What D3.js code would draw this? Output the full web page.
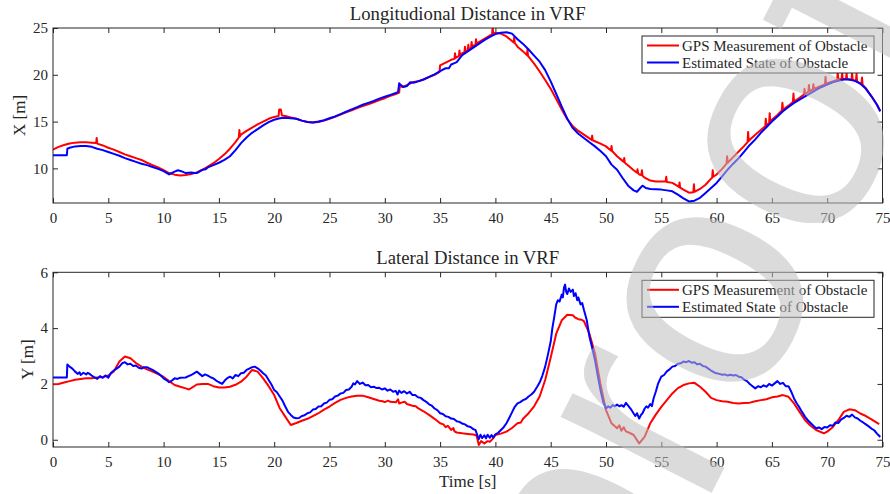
<!DOCTYPE html>
<html>
<head>
<meta charset="utf-8">
<title>VRF distances</title>
<script src="https://d3js.org/d3.v7.min.js"></script>
<style>
  body { margin: 0; background: #fff; }
  text { font-family: "Liberation Serif", "Times New Roman", serif; fill: #262626; }
</style>
</head>
<body>
<svg width="890" height="494"></svg>
<script>
// ---- data: [time s, distance m] ----
var gpsX = [[0,12.0],[0.5,12.3],[1,12.5],[1.5,12.65],[2,12.75],[2.5,12.8],[3,12.8],[3.5,12.75],[3.9,12.7],[3.95,13.25],[4,12.65],[4.5,12.45],[5,12.2],[5.5,12.0],[6,11.75],[6.5,11.5],[7,11.3],[7.5,11.1],[8,10.9],[8.5,10.6],[9,10.35],[9.5,10.1],[10,9.8],[10.5,9.5],[11,9.33],[11.5,9.25],[12,9.3],[12.5,9.4],[13,9.57],[13.5,9.85],[14,10.2],[14.5,10.55],[15,11.0],[15.5,11.5],[16,12.1],[16.5,12.8],[16.8,13.3],[16.85,14.1],[16.9,13.4],[17,13.6],[17.5,14.0],[18,14.35],[18.5,14.7],[19,15.0],[19.5,15.3],[20,15.5],[20.4,15.6],[20.45,16.3],[20.6,16.3],[20.7,15.65],[21,15.6],[21.5,15.45],[22,15.3],[22.5,15.1],[23,14.95],[23.5,14.9],[24,14.95],[24.5,15.1],[25,15.3],[25.5,15.5],[26,15.75],[26.5,16.0],[27,16.2],[27.5,16.45],[28,16.65],[28.5,16.85],[29,17.05],[29.5,17.3],[30,17.5],[30.5,17.75],[31,17.95],[31.3,18.1],[31.35,18.8],[31.6,18.7],[32,18.9],[32.5,19.2],[33,19.3],[33.5,19.5],[34,19.75],[34.5,20.0],[34.95,20.3],[35,21.0],[35.5,21.3],[36,21.6],[36.3,21.7],[36.35,22.3],[36.4,21.8],[36.7,22.0],[36.75,22.6],[36.8,22.1],[37,22.3],[37.2,22.4],[37.25,23.0],[37.3,22.5],[37.5,22.6],[37.55,23.2],[37.6,22.7],[37.8,22.9],[37.85,23.5],[37.9,23.0],[38,23.1],[38.2,23.2],[38.25,23.8],[38.3,23.3],[38.5,23.5],[39,23.85],[39.5,24.2],[39.7,24.3],[39.75,25.2],[39.8,24.4],[40,24.5],[40.5,24.4],[41,24.1],[41.5,23.6],[41.65,23.45],[41.7,24.0],[41.75,23.4],[42,23.0],[42.5,22.5],[42.85,22.1],[42.9,22.7],[42.95,22.0],[43,21.95],[43.5,21.2],[44,20.35],[44.5,19.45],[45,18.5],[45.5,17.4],[46,16.3],[46.5,15.25],[47,14.5],[47.5,14.0],[48,13.6],[48.5,13.2],[48.7,13.05],[48.75,13.5],[48.8,13.0],[49,12.9],[49.5,12.65],[50,12.35],[50.45,11.9],[50.5,12.4],[50.55,11.85],[51,11.3],[51.5,10.8],[51.6,10.7],[51.65,11.1],[51.7,10.6],[52,10.3],[52.5,9.8],[52.8,9.55],[52.85,9.9],[52.9,9.5],[53,9.35],[53.2,9.3],[53.25,9.8],[53.3,9.2],[53.5,9.0],[54,8.7],[54.5,8.6],[55,8.6],[55.4,8.6],[55.45,9.1],[55.5,8.55],[56,8.45],[56.5,8.1],[56.6,8.0],[56.65,8.5],[56.7,7.95],[57,7.73],[57.5,7.4],[57.9,7.45],[57.95,8.3],[58,7.5],[58.5,7.8],[59,8.25],[59.5,8.9],[59.6,9.0],[59.65,9.8],[59.7,9.1],[60,9.35],[60.5,9.95],[60.9,10.5],[60.95,11.3],[61,10.6],[61.5,11.2],[62,11.8],[62.5,12.4],[62.8,12.8],[62.85,13.9],[62.9,12.9],[63,13.05],[63.5,13.6],[64,14.1],[64.4,14.5],[64.45,15.3],[64.5,14.6],[64.75,14.85],[64.8,15.9],[64.85,14.9],[65,15.2],[65.5,15.7],[65.9,16.2],[65.95,17.0],[66,16.27],[66.5,16.7],[66.9,17.1],[66.95,18.0],[67,17.15],[67.5,17.55],[67.9,17.9],[67.95,18.5],[68,17.95],[68.3,18.2],[68.35,18.9],[68.4,18.25],[68.7,18.45],[68.75,19.0],[68.8,18.5],[69,18.6],[69.5,18.85],[69.8,19.0],[69.85,19.8],[69.9,19.05],[70,19.1],[70.5,19.3],[70.9,19.45],[70.95,20.2],[71,19.5],[71.3,19.55],[71.35,20.2],[71.4,19.55],[71.7,19.55],[71.75,20.2],[71.8,19.55],[72,19.5],[72.2,19.45],[72.25,20.2],[72.3,19.45],[72.6,19.35],[72.65,20.1],[72.7,19.3],[73,19.05],[73.1,19.0],[73.15,19.7],[73.2,18.95],[73.5,18.55],[74,17.7],[74.5,16.8],[74.8,16.1]];

var estX = [[0,11.4],[1.25,11.4],[1.3,12.1],[1.5,12.2],[2,12.35],[2.5,12.4],[3,12.4],[3.5,12.3],[4,12.1],[4.5,11.95],[5,11.75],[5.5,11.55],[6,11.35],[6.5,11.1],[7,10.9],[7.5,10.7],[8,10.5],[8.5,10.35],[9,10.15],[9.5,9.95],[10,9.7],[10.5,9.35],[10.8,9.55],[11,9.65],[11.3,9.8],[11.6,9.7],[12,9.5],[12.5,9.55],[12.8,9.5],[13,9.5],[13.5,9.85],[13.8,9.9],[14,10.1],[14.5,10.35],[15,10.6],[15.5,10.9],[16,11.3],[16.5,11.95],[17,12.7],[17.5,13.3],[18,13.8],[18.5,14.2],[19,14.6],[19.5,14.95],[20,15.2],[20.5,15.35],[21,15.4],[21.5,15.35],[22,15.3],[22.5,15.1],[23,14.95],[23.5,14.9],[24,15.0],[24.5,15.15],[25,15.35],[25.5,15.55],[26,15.8],[26.5,16.05],[27,16.3],[27.5,16.55],[28,16.8],[28.5,17.0],[29,17.2],[29.5,17.45],[30,17.65],[30.5,17.85],[31,18.05],[31.2,18.15],[31.3,19.1],[31.4,18.95],[31.7,18.7],[32,18.8],[32.3,19.2],[32.6,19.15],[33,19.3],[33.5,19.5],[34,19.77],[34.5,20.05],[35,20.4],[35.5,20.7],[35.8,20.7],[36,21.1],[36.3,21.25],[36.5,21.35],[37,22.1],[37.5,22.5],[38,22.9],[38.5,23.3],[39,23.7],[39.5,24.05],[40,24.35],[40.5,24.5],[41,24.55],[41.5,24.4],[42,23.8],[42.5,23.3],[43,22.7],[43.5,22.05],[44,21.4],[44.5,20.5],[45,19.3],[45.5,17.95],[46,16.6],[46.5,15.3],[47,14.3],[47.5,13.7],[48,13.25],[48.5,12.8],[49,12.35],[49.5,11.85],[50,11.3],[50.5,10.4],[51,9.86],[51.5,8.97],[52,8.15],[52.5,7.65],[52.8,7.5],[53.1,7.9],[53.3,8.15],[53.6,7.9],[54,7.8],[55,7.73],[55.5,7.65],[56,7.55],[56.5,7.2],[57,6.8],[57.5,6.47],[58,6.55],[58.5,6.85],[59,7.37],[59.5,7.9],[60,8.44],[60.5,9.15],[61,9.86],[61.5,10.5],[62,11.1],[62.5,11.8],[63,12.5],[63.5,13.1],[64,13.8],[64.5,14.4],[65,15.0],[65.5,15.55],[66,16.1],[66.5,16.55],[67,17.0],[67.5,17.35],[68,17.7],[68.5,18.05],[69,18.4],[69.5,18.7],[70,18.95],[70.5,19.2],[71,19.35],[71.5,19.5],[72,19.5],[72.5,19.35],[73,19.05],[73.5,18.5],[74,17.7],[74.5,16.8],[74.8,16.1]];

var gpsY = [[0,1.99],[0.5,2.0],[1,2.05],[1.5,2.1],[2,2.15],[2.5,2.18],[3,2.2],[3.5,2.2],[4,2.23],[4.5,2.25],[5,2.3],[5.5,2.45],[6,2.8],[6.5,2.98],[7,2.92],[7.5,2.75],[8,2.62],[8.5,2.52],[9,2.44],[9.5,2.35],[10,2.25],[10.5,2.1],[11,1.96],[11.5,1.9],[12,1.84],[12.3,1.8],[12.7,1.9],[13,1.98],[13.5,2.0],[14,2.0],[14.5,1.92],[15,1.87],[15.5,1.87],[16,1.9],[16.5,1.97],[17,2.08],[17.5,2.26],[18,2.5],[18.5,2.44],[19,2.2],[19.5,1.92],[20,1.6],[20.5,1.13],[21,0.83],[21.5,0.53],[22,0.6],[22.5,0.68],[23,0.75],[23.5,0.85],[24,0.95],[24.5,1.08],[25,1.19],[25.5,1.32],[26,1.43],[26.5,1.5],[27,1.55],[27.5,1.58],[28,1.58],[28.5,1.52],[29,1.46],[29.5,1.4],[29.8,1.38],[30,1.35],[30.3,1.4],[30.5,1.36],[31,1.34],[31.2,1.45],[31.3,1.3],[31.5,1.33],[31.8,1.36],[32,1.28],[32.5,1.22],[32.8,1.2],[33,1.13],[33.5,1.02],[34,0.89],[34.5,0.75],[35,0.59],[35.3,0.55],[35.5,0.45],[35.7,0.5],[36,0.35],[36.2,0.42],[36.3,0.3],[36.5,0.26],[37,0.23],[37.5,0.21],[38,0.19],[38.3,0.15],[38.5,-0.19],[38.7,-0.05],[39,-0.13],[39.3,-0.05],[39.5,-0.07],[39.8,0.05],[40,0.17],[40.5,0.22],[41,0.29],[41.5,0.42],[42,0.59],[42.3,0.62],[42.5,0.75],[43,0.95],[43.5,1.2],[44,1.55],[44.5,2.14],[45,2.95],[45.5,3.8],[46,4.28],[46.5,4.48],[47,4.46],[47.2,4.38],[47.5,4.32],[47.8,4.3],[48,4.25],[48.5,3.8],[49,3.1],[49.5,2.0],[50,1.06],[50.5,0.59],[51,0.41],[51.2,0.52],[51.4,0.32],[51.6,0.45],[51.8,0.3],[52,0.27],[52.5,0.17],[53,-0.13],[53.5,0.11],[54,0.59],[54.5,0.9],[55,1.18],[55.5,1.42],[56,1.66],[56.5,1.85],[57,1.96],[57.5,2.02],[58,2.04],[58.5,1.9],[59,1.72],[59.5,1.5],[60,1.42],[60.5,1.38],[61,1.36],[61.5,1.32],[62,1.3],[62.5,1.32],[63,1.33],[63.5,1.38],[64,1.42],[64.5,1.45],[65,1.52],[65.5,1.55],[66,1.6],[66.5,1.54],[67,1.3],[67.5,1.0],[68,0.7],[68.5,0.5],[69,0.35],[69.7,0.23],[70,0.29],[70.5,0.45],[71,0.7],[71.5,1.0],[72,1.09],[72.5,1.06],[73,0.94],[73.5,0.85],[74,0.73],[74.7,0.56]];

var estY = [[0,2.23],[1.25,2.23],[1.3,2.7],[1.5,2.62],[1.75,2.55],[2,2.44],[2.25,2.36],[2.4,2.42],[2.5,2.32],[2.75,2.4],[3,2.34],[3.15,2.4],[3.3,2.36],[3.5,2.3],[3.75,2.24],[4,2.18],[4.25,2.28],[4.5,2.22],[4.75,2.3],[5,2.22],[5.25,2.4],[5.5,2.48],[5.75,2.55],[6,2.62],[6.25,2.74],[6.5,2.78],[6.75,2.7],[7,2.72],[7.25,2.64],[7.5,2.66],[7.75,2.58],[8,2.55],[8.25,2.6],[8.5,2.6],[8.75,2.55],[9,2.5],[9.25,2.44],[9.5,2.38],[9.75,2.3],[10,2.2],[10.25,2.14],[10.5,2.06],[10.75,2.12],[11,2.2],[11.25,2.18],[11.5,2.22],[12,2.23],[12.25,2.28],[12.5,2.32],[12.75,2.38],[13,2.44],[13.25,2.36],[13.5,2.28],[13.75,2.34],[14,2.3],[14.25,2.24],[14.5,2.2],[14.75,2.12],[15,2.06],[15.3,2.0],[15.6,2.15],[15.8,2.22],[16,2.26],[16.25,2.2],[16.5,2.32],[16.75,2.28],[17,2.38],[17.25,2.4],[17.5,2.5],[17.75,2.55],[18,2.6],[18.25,2.62],[18.5,2.56],[18.75,2.48],[19,2.38],[19.25,2.3],[19.5,2.14],[19.75,1.98],[20,1.78],[20.25,1.7],[20.5,1.55],[20.75,1.4],[21,1.19],[21.25,1.0],[21.5,0.89],[21.75,0.8],[22,0.77],[22.25,0.78],[22.5,0.85],[22.75,0.88],[23,0.95],[23.25,0.98],[23.5,1.08],[23.75,1.1],[24,1.19],[24.25,1.2],[24.5,1.3],[24.75,1.33],[25,1.43],[25.25,1.45],[25.5,1.55],[25.75,1.58],[26,1.66],[26.25,1.68],[26.5,1.78],[26.75,1.8],[27,1.9],[27.15,2.02],[27.3,1.98],[27.5,2.1],[27.75,2.0],[28,2.05],[28.25,1.95],[28.5,1.96],[28.75,1.88],[29,1.9],[29.25,1.85],[29.5,1.86],[29.75,1.8],[30,1.84],[30.25,1.76],[30.5,1.8],[30.75,1.72],[31,1.75],[31.15,1.62],[31.3,1.76],[31.5,1.68],[31.75,1.74],[32,1.66],[32.25,1.72],[32.5,1.6],[32.75,1.6],[33,1.52],[33.25,1.5],[33.5,1.42],[33.75,1.36],[34,1.27],[34.25,1.22],[34.5,1.12],[34.75,1.06],[35,0.95],[35.25,0.92],[35.5,0.84],[35.75,0.82],[36,0.76],[36.25,0.74],[36.5,0.66],[36.75,0.64],[37,0.58],[37.25,0.55],[37.5,0.48],[37.75,0.46],[38,0.38],[38.2,0.35],[38.4,0.12],[38.5,0.02],[38.65,0.18],[38.8,0.06],[39,0.16],[39.15,0.05],[39.3,0.18],[39.5,0.07],[39.65,0.17],[39.8,0.08],[40,0.19],[40.25,0.25],[40.5,0.35],[40.75,0.45],[41,0.59],[41.25,0.78],[41.5,0.98],[41.75,1.18],[42,1.3],[42.25,1.35],[42.5,1.42],[42.75,1.46],[43,1.55],[43.25,1.62],[43.5,1.72],[43.75,1.88],[44,2.05],[44.25,2.3],[44.5,2.62],[44.75,3.05],[45,3.52],[45.15,4.0],[45.3,4.35],[45.5,4.85],[45.65,5.0],[45.8,4.95],[46,5.2],[46.1,5.1],[46.2,5.45],[46.3,5.56],[46.4,5.3],[46.5,5.22],[46.65,5.42],[46.8,5.3],[47,5.38],[47.1,5.15],[47.25,5.25],[47.4,5.0],[47.5,5.1],[47.7,4.85],[47.85,4.9],[48,4.66],[48.25,4.3],[48.5,3.7],[48.75,3.3],[49,2.86],[49.25,2.3],[49.5,1.78],[49.75,1.35],[50,1.12],[50.2,1.2],[50.4,1.15],[50.6,1.24],[50.8,1.2],[51,1.26],[51.2,1.2],[51.4,1.24],[51.6,1.18],[51.8,1.32],[52,1.22],[52.25,1.1],[52.5,0.94],[52.65,0.85],[52.8,0.95],[53,0.76],[53.15,0.88],[53.3,0.95],[53.5,1.12],[53.65,1.2],[53.8,1.15],[54,1.28],[54.15,1.2],[54.3,1.48],[54.5,1.72],[54.7,2.0],[55,2.26],[55.25,2.32],[55.5,2.45],[55.75,2.52],[56,2.62],[56.25,2.64],[56.5,2.72],[56.75,2.74],[57,2.8],[57.25,2.78],[57.5,2.82],[57.75,2.76],[58,2.78],[58.25,2.7],[58.5,2.72],[58.75,2.64],[59,2.62],[59.25,2.55],[59.5,2.48],[59.75,2.42],[60,2.38],[60.25,2.36],[60.5,2.33],[60.75,2.34],[61,2.3],[61.25,2.33],[61.5,2.3],[61.75,2.32],[62,2.26],[62.25,2.24],[62.5,2.15],[62.75,2.1],[63,2.0],[63.25,1.92],[63.5,1.84],[63.75,1.92],[64,1.88],[64.25,1.95],[64.5,1.9],[64.75,2.0],[65,1.94],[65.25,2.02],[65.5,2.1],[65.75,2.0],[66,2.04],[66.25,1.92],[66.5,1.92],[66.75,1.72],[67,1.48],[67.25,1.3],[67.5,1.15],[67.75,0.98],[68,0.82],[68.25,0.7],[68.5,0.6],[68.75,0.5],[69,0.41],[69.25,0.44],[69.5,0.38],[69.75,0.46],[70,0.44],[70.25,0.52],[70.5,0.5],[70.75,0.62],[71,0.6],[71.25,0.72],[71.5,0.78],[71.75,0.86],[72,0.82],[72.25,0.9],[72.5,0.8],[72.75,0.76],[73,0.68],[73.25,0.62],[73.5,0.55],[73.75,0.48],[74,0.4],[74.25,0.34],[74.5,0.22],[74.65,0.16],[74.8,0.1]];

var timeTicks = d3.range(0, 76, 5);
var xTicksTop = [10, 15, 20, 25];
var yTicksBottom = [0, 2, 4, 6];
var legendNames = ["GPS Measurement of Obstacle", "Estimated State of Obstacle"];
var colors = ["#ff0000", "#0000ff"];

var svg = d3.select("svg");
var axisCol = "#262626";
var left = 53, right = 882.5;

var x = d3.scaleLinear().domain([0, 75]).range([left, right]);

function panel(top, bottom, yDomain, yTicks, title, ylab, ylabX, series, id) {
  var y = d3.scaleLinear().domain(yDomain).range([bottom, top]);
  var g = svg.append("g");

  svg.append("clipPath").attr("id", id)
    .append("rect").attr("x", left).attr("y", top)
    .attr("width", right - left).attr("height", bottom - top);

  // axes, ticks point inward like matlab
  g.append("g").attr("transform", "translate(0," + bottom + ")")
    .call(d3.axisBottom(x).tickValues(timeTicks).tickSizeInner(-5).tickSizeOuter(0).tickPadding(9))
    .call(styleAxis);
  g.append("g").attr("transform", "translate(0," + top + ")")
    .call(d3.axisTop(x).tickValues(timeTicks).tickSizeInner(-5).tickSizeOuter(0).tickFormat(""))
    .call(styleAxis);
  g.append("g").attr("transform", "translate(" + left + ",0)")
    .call(d3.axisLeft(y).tickValues(yTicks).tickFormat(d3.format("d")).tickSizeInner(-5).tickSizeOuter(0).tickPadding(5))
    .call(styleAxis);
  g.append("g").attr("transform", "translate(" + right + ",0)")
    .call(d3.axisRight(y).tickValues(yTicks).tickSizeInner(-5).tickSizeOuter(0).tickFormat(""))
    .call(styleAxis);

  var line = d3.line().x(function(d){ return x(d[0]); }).y(function(d){ return y(d[1]); });
  series.forEach(function(s, i){
    g.append("path").datum(s)
      .attr("clip-path", "url(#" + id + ")")
      .attr("d", line)
      .attr("fill", "none")
      .attr("stroke", colors[i])
      .attr("stroke-width", 2)
      .attr("stroke-linejoin", "round");
  });

  g.append("rect").attr("x", left).attr("y", top)
    .attr("width", right - left).attr("height", bottom - top)
    .attr("fill", "none").attr("stroke", axisCol).attr("stroke-width", 1);

  g.append("text").attr("x", (left + right) / 2).attr("y", top - 8.5)
    .attr("text-anchor", "middle").style("font-size", "18.7px").text(title);

  g.append("text")
    .attr("transform", "translate(" + ylabX + "," + ((top + bottom) / 2) + ") rotate(-90)")
    .attr("text-anchor", "middle").style("font-size", "17px").text(ylab);

  // legend
  var lg = g.append("g").attr("transform", "translate(642," + (top + 8) + ")");
  lg.append("rect").attr("width", 232).attr("height", 37)
    .attr("fill", "#fff").attr("stroke", axisCol).attr("stroke-width", 1);
  legendNames.forEach(function(n, i){
    var yy = 9.5 + i * 17;
    lg.append("line").attr("x1", 5).attr("x2", 37).attr("y1", yy).attr("y2", yy)
      .attr("stroke", colors[i]).attr("stroke-width", 2);
    lg.append("text").attr("x", 40).attr("y", yy + 5)
      .style("font-size", "15px").text(n);
  });
}

function styleAxis(sel) {
  sel.select(".domain").remove();
  sel.selectAll(".tick line").attr("stroke", axisCol);
  sel.selectAll(".tick text").attr("fill", axisCol)
    .style("font-size", "15px").style("font-family", "'Liberation Serif', serif");
}

panel(28, 203, [6.3, 25], xTicksTop, "Longitudional Distance in VRF", "X [m]", 25,
  [gpsX, estX], "clipTop");
panel(272.3, 447, [-0.26, 6], yTicksBottom, "Lateral Distance in VRF", "Y [m]", 33,
  [gpsY, estY], "clipBottom");

svg.append("text").attr("x", (left + right) / 2).attr("y", 486.5)
  .attr("text-anchor", "middle").style("font-size", "17px").text("Time [s]");

// diagonal watermark over everything; the last "o" sits on the ring seen in the figure
var wmText = "Journal Pre-proof", wmSize = 320;
var wm = svg.append("text")
  .style("font-family", "'Liberation Sans', Arial, sans-serif")
  .style("font-size", wmSize + "px")
  .style("fill", "#bfbfbf")
  .style("opacity", 0.55)
  .text(wmText);
var probe = svg.append("text")
  .style("font-family", "'Liberation Sans', Arial, sans-serif")
  .style("font-size", wmSize + "px");
function wmWidth(s) { probe.text(s); return probe.node().getComputedTextLength(); }
var k = wmText.lastIndexOf("o");
var cx = wmWidth(wmText.slice(0, k)) + wmWidth("o") / 2;
probe.remove();
wm.attr("x", -cx).attr("y", 0.26 * wmSize)
  .attr("transform", "translate(797,142) rotate(-63)");
</script>
</body>
</html>
